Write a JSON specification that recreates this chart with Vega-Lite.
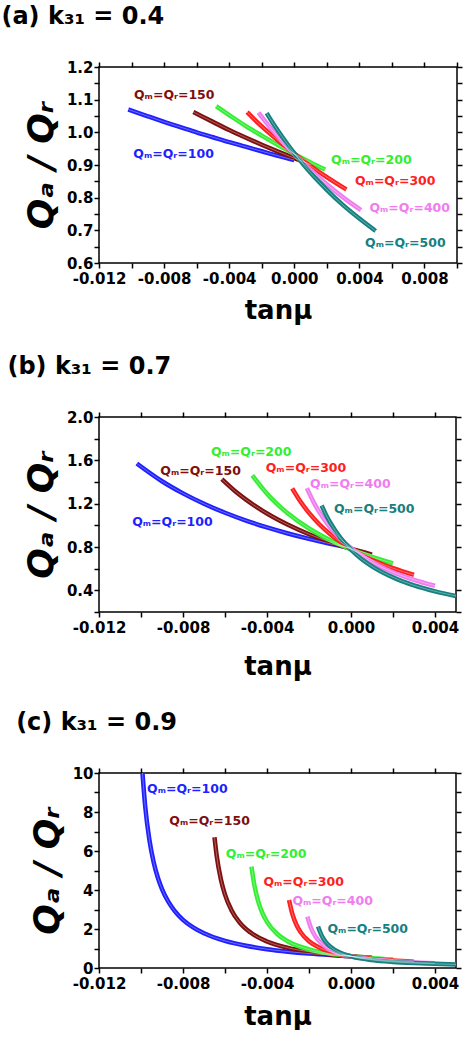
{
  "$schema": "https://vega.github.io/schema/vega-lite/v6.json",
  "background": "white",
  "padding": {"left": 0, "top": 4, "right": 0, "bottom": 0},
  "spacing": 30,
  "config": {
    "view": {"stroke": "black", "strokeWidth": 1.5, "fill": "transparent"},
    "axis": {
      "labelFont": "DejaVu Sans", "labelFontWeight": "bold", "labelFontSize": 15, "labelColor": "black",
      "labelOverlap": false, "labelFlush": false, "labelBound": false,
      "domain": false, "grid": false,
      "titleFont": "DejaVu Sans", "titleFontWeight": "bold", "titleColor": "black", "zindex": 2
    },
    "title": {"font": "DejaVu Sans", "fontSize": 24, "fontWeight": "bold", "anchor": "start", "color": "black", "frame": "bounds"},
    "text": {"font": "DejaVu Sans", "fontWeight": "bold", "fontSize": 12.5}
  },
  "datasets": {
    "a": [
      {"s":"100","x":-0.0102,"y":1.070},{"s":"100","x":-0.009,"y":1.049},{"s":"100","x":-0.008,"y":1.032},{"s":"100","x":-0.007,"y":1.016},{"s":"100","x":-0.006,"y":1.000},{"s":"100","x":-0.005,"y":0.985},{"s":"100","x":-0.004,"y":0.970},{"s":"100","x":-0.003,"y":0.956},{"s":"100","x":-0.002,"y":0.942},{"s":"100","x":-0.001,"y":0.928},{"s":"100","x":0,"y":0.915},
      {"s":"150","x":-0.0062,"y":1.062},{"s":"150","x":-0.005,"y":1.032},{"s":"150","x":-0.004,"y":1.007},{"s":"150","x":-0.003,"y":0.984},{"s":"150","x":-0.002,"y":0.962},{"s":"150","x":-0.001,"y":0.941},{"s":"150","x":0,"y":0.921},{"s":"150","x":0.00105,"y":0.901},
      {"s":"200","x":-0.0048,"y":1.080},{"s":"200","x":-0.004,"y":1.053},{"s":"200","x":-0.003,"y":1.020},{"s":"200","x":-0.002,"y":0.990},{"s":"200","x":-0.001,"y":0.961},{"s":"200","x":0,"y":0.934},{"s":"200","x":0.001,"y":0.908},{"s":"200","x":0.0019,"y":0.886},
      {"s":"300","x":-0.0029,"y":1.062},{"s":"300","x":-0.0025,"y":1.042},{"s":"300","x":-0.002,"y":1.018},{"s":"300","x":-0.001,"y":0.975},{"s":"300","x":0,"y":0.934},{"s":"300","x":0.001,"y":0.897},{"s":"300","x":0.002,"y":0.863},{"s":"300","x":0.0032,"y":0.825},
      {"s":"400","x":-0.0022,"y":1.060},{"s":"400","x":-0.0016,"y":1.022},{"s":"400","x":-0.001,"y":0.987},{"s":"400","x":0,"y":0.933},{"s":"400","x":0.001,"y":0.885},{"s":"400","x":0.002,"y":0.841},{"s":"400","x":0.003,"y":0.801},{"s":"400","x":0.0041,"y":0.762},
      {"s":"500","x":-0.0017,"y":1.059},{"s":"500","x":-0.0013,"y":1.027},{"s":"500","x":-0.001,"y":1.005},{"s":"500","x":0,"y":0.936},{"s":"500","x":0.0005,"y":0.905},{"s":"500","x":0.001,"y":0.876},{"s":"500","x":0.002,"y":0.824},{"s":"500","x":0.003,"y":0.777},{"s":"500","x":0.004,"y":0.736},{"s":"500","x":0.005,"y":0.698}
    ],
    "la": [
      {"s":"150","x":-0.00985,"y":1.115,"t":"Qₘ=Qᵣ=150"},
      {"s":"100","x":-0.00989,"y":0.934,"t":"Qₘ=Qᵣ=100"},
      {"s":"200","x":0.00226,"y":0.916,"t":"Qₘ=Qᵣ=200"},
      {"s":"300","x":0.00373,"y":0.850,"t":"Qₘ=Qᵣ=300"},
      {"s":"400","x":0.00462,"y":0.7685,"t":"Qₘ=Qᵣ=400"},
      {"s":"500","x":0.00435,"y":0.661,"t":"Qₘ=Qᵣ=500"}
    ],
    "b": [
      {"s":"100","x":-0.0102,"y":1.571},{"s":"100","x":-0.009,"y":1.407},{"s":"100","x":-0.008,"y":1.295},{"s":"100","x":-0.007,"y":1.199},{"s":"100","x":-0.006,"y":1.116},{"s":"100","x":-0.005,"y":1.044},{"s":"100","x":-0.004,"y":0.981},{"s":"100","x":-0.003,"y":0.925},{"s":"100","x":-0.002,"y":0.875},{"s":"100","x":-0.001,"y":0.830},{"s":"100","x":0,"y":0.790},
      {"s":"150","x":-0.00615,"y":1.426},{"s":"150","x":-0.0055,"y":1.312},{"s":"150","x":-0.005,"y":1.237},{"s":"150","x":-0.004,"y":1.109},{"s":"150","x":-0.003,"y":1.005},{"s":"150","x":-0.002,"y":0.918},{"s":"150","x":-0.001,"y":0.846},{"s":"150","x":0,"y":0.784},{"s":"150","x":0.001,"y":0.730},
      {"s":"200","x":-0.0047,"y":1.461},{"s":"200","x":-0.004,"y":1.292},{"s":"200","x":-0.0035,"y":1.194},{"s":"200","x":-0.003,"y":1.109},{"s":"200","x":-0.002,"y":0.971},{"s":"200","x":-0.001,"y":0.864},{"s":"200","x":0,"y":0.778},{"s":"200","x":0.001,"y":0.708},{"s":"200","x":0.002,"y":0.649},
      {"s":"300","x":-0.0028,"y":1.342},{"s":"300","x":-0.0024,"y":1.218},{"s":"300","x":-0.002,"y":1.115},{"s":"300","x":-0.0015,"y":1.008},{"s":"300","x":-0.001,"y":0.920},{"s":"300","x":-0.0005,"y":0.846},{"s":"300","x":0,"y":0.783},{"s":"300","x":0.001,"y":0.682},{"s":"300","x":0.002,"y":0.604},{"s":"300","x":0.003,"y":0.542},
      {"s":"400","x":-0.0021,"y":1.343},{"s":"400","x":-0.0018,"y":1.221},{"s":"400","x":-0.0015,"y":1.119},{"s":"400","x":-0.001,"y":0.982},{"s":"400","x":-0.0005,"y":0.876},{"s":"400","x":0,"y":0.790},{"s":"400","x":0.001,"y":0.660},{"s":"400","x":0.002,"y":0.567},{"s":"400","x":0.003,"y":0.497},{"s":"400","x":0.004,"y":0.442},
      {"s":"500","x":-0.0014,"y":1.183},{"s":"500","x":-0.0012,"y":1.101},{"s":"500","x":-0.001,"y":1.029},{"s":"500","x":-0.0005,"y":0.884},{"s":"500","x":0,"y":0.775},{"s":"500","x":0.0005,"y":0.690},{"s":"500","x":0.001,"y":0.622},{"s":"500","x":0.002,"y":0.520},{"s":"500","x":0.003,"y":0.446},{"s":"500","x":0.004,"y":0.391},{"s":"500","x":0.005,"y":0.348}
    ],
    "lb": [
      {"s":"200","x":-0.00667,"y":1.679,"t":"Qₘ=Qᵣ=200"},
      {"s":"150","x":-0.00908,"y":1.502,"t":"Qₘ=Qᵣ=150"},
      {"s":"300","x":-0.00406,"y":1.527,"t":"Qₘ=Qᵣ=300"},
      {"s":"400","x":-0.00195,"y":1.380,"t":"Qₘ=Qᵣ=400"},
      {"s":"500","x":-0.00081,"y":1.151,"t":"Qₘ=Qᵣ=500"},
      {"s":"100","x":-0.01042,"y":1.035,"t":"Qₘ=Qᵣ=100"}
    ],
    "c": [
      {"s":"100","x":-0.00993,"y":10.0},{"s":"100","x":-0.0098,"y":8.29},{"s":"100","x":-0.0096,"y":6.57},{"s":"100","x":-0.0094,"y":5.44},{"s":"100","x":-0.0092,"y":4.64},{"s":"100","x":-0.009,"y":4.05},{"s":"100","x":-0.0087,"y":3.40},{"s":"100","x":-0.0084,"y":2.93},{"s":"100","x":-0.008,"y":2.47},{"s":"100","x":-0.0075,"y":2.07},{"s":"100","x":-0.007,"y":1.78},{"s":"100","x":-0.006,"y":1.39},{"s":"100","x":-0.005,"y":1.14},{"s":"100","x":-0.004,"y":0.965},{"s":"100","x":-0.003,"y":0.838},{"s":"100","x":-0.002,"y":0.740},{"s":"100","x":-0.001,"y":0.663},{"s":"100","x":0,"y":0.600},
      {"s":"150","x":-0.0065,"y":6.70},{"s":"150","x":-0.0064,"y":5.79},{"s":"150","x":-0.0062,"y":4.56},{"s":"150","x":-0.006,"y":3.76},{"s":"150","x":-0.0057,"y":2.98},{"s":"150","x":-0.0053,"y":2.33},{"s":"150","x":-0.0048,"y":1.83},{"s":"150","x":-0.004,"y":1.36},{"s":"150","x":-0.003,"y":1.035},{"s":"150","x":-0.002,"y":0.833},{"s":"150","x":-0.001,"y":0.698},{"s":"150","x":0,"y":0.600},{"s":"150","x":0.001,"y":0.526},
      {"s":"200","x":-0.00474,"y":5.20},{"s":"200","x":-0.0046,"y":4.24},{"s":"200","x":-0.0044,"y":3.35},{"s":"200","x":-0.0042,"y":2.77},{"s":"200","x":-0.004,"y":2.37},{"s":"200","x":-0.0035,"y":1.73},{"s":"200","x":-0.003,"y":1.36},{"s":"200","x":-0.002,"y":0.957},{"s":"200","x":-0.001,"y":0.738},{"s":"200","x":0,"y":0.600},{"s":"200","x":0.001,"y":0.506},{"s":"200","x":0.002,"y":0.437},
      {"s":"300","x":-0.00295,"y":3.49},{"s":"300","x":-0.0028,"y":2.80},{"s":"300","x":-0.0026,"y":2.22},{"s":"300","x":-0.0024,"y":1.84},{"s":"300","x":-0.002,"y":1.37},{"s":"300","x":-0.0015,"y":1.04},{"s":"300","x":-0.001,"y":0.834},{"s":"300","x":0,"y":0.600},{"s":"300","x":0.001,"y":0.468},{"s":"300","x":0.002,"y":0.384},{"s":"300","x":0.003,"y":0.326},
      {"s":"400","x":-0.00208,"y":2.64},{"s":"400","x":-0.0019,"y":2.04},{"s":"400","x":-0.0017,"y":1.63},{"s":"400","x":-0.0014,"y":1.25},{"s":"400","x":-0.001,"y":0.954},{"s":"400","x":0,"y":0.600},{"s":"400","x":0.001,"y":0.437},{"s":"400","x":0.002,"y":0.344},{"s":"400","x":0.003,"y":0.284},{"s":"400","x":0.004,"y":0.241},
      {"s":"500","x":-0.00157,"y":2.13},{"s":"500","x":-0.0014,"y":1.67},{"s":"500","x":-0.0012,"y":1.33},{"s":"500","x":-0.001,"y":1.106},{"s":"500","x":-0.0005,"y":0.778},{"s":"500","x":0,"y":0.600},{"s":"500","x":0.001,"y":0.412},{"s":"500","x":0.002,"y":0.313},{"s":"500","x":0.003,"y":0.253},{"s":"500","x":0.004,"y":0.212},{"s":"500","x":0.005,"y":0.182}
    ],
    "lc": [
      {"s":"100","x":-0.00971,"y":9.20,"t":"Qₘ=Qᵣ=100"},
      {"s":"150","x":-0.00865,"y":7.55,"t":"Qₘ=Qᵣ=150"},
      {"s":"200","x":-0.00596,"y":5.84,"t":"Qₘ=Qᵣ=200"},
      {"s":"300","x":-0.00417,"y":4.43,"t":"Qₘ=Qᵣ=300"},
      {"s":"400","x":-0.00279,"y":3.44,"t":"Qₘ=Qᵣ=400"},
      {"s":"500","x":-0.00112,"y":2.01,"t":"Qₘ=Qᵣ=500"}
    ]
  },
  "vconcat": [
    {
      "title": {"text": "(a) k₃₁ = 0.4", "offset": 31, "dx": -22},
      "width": 358, "height": 196,
      "layer": [
        {
          "data": {"name": "a"},
          "mark": {"type": "line", "strokeWidth": 4.5, "interpolate": "monotone", "clip": true},
          "encoding": {
            "x": {"field": "x", "type": "quantitative", "scale": {"domain": [-0.012, 0.010], "nice": false, "zero": false},
                  "axis": {"title": "tanμ", "titleFontSize": 26, "titlePadding": 11, "labelPadding": 3, "ticks": true, "tickSize": 5, "tickColor": "black", "tickWidth": 1.5,
                           "values": [-0.012,-0.010,-0.008,-0.006,-0.004,-0.002,0,0.002,0.004,0.006,0.008,0.010],
                           "labelExpr": "abs(round(datum.value*1000)) % 4 == 0 && datum.value < 0.0095 ? replace(format(datum.value, '.3f'), '\u2212', '-') : ''"}},
            "y": {"field": "y", "type": "quantitative", "scale": {"domain": [0.6, 1.2], "nice": false, "zero": false},
                  "axis": {"title": "Qₐ / Qᵣ", "titleFontSize": 36, "titleFontStyle": "italic", "titlePadding": 6, "labelPadding": 1, "ticks": true, "tickSize": 5, "tickColor": "black", "tickWidth": 1.5,
                           "values": [0.6,0.65,0.7,0.75,0.8,0.85,0.9,0.95,1.0,1.05,1.1,1.15,1.2],
                           "labelExpr": "round(datum.value*100) % 10 == 0 ? format(datum.value, '.1f') : ''"}},
            "color": {"field": "s", "type": "nominal", "legend": null,
                      "scale": {"domain": ["100","150","200","300","400","500"], "range": ["#1f1fff","#7f0f0f","#33ee33","#ff1f1f","#f07cf0","#178080"]}}
          }
        },
        {
          "data": {"name": "a"},
          "mark": {"type": "line", "strokeWidth": 1, "color": "white", "opacity": 0.35, "interpolate": "monotone", "clip": true},
          "encoding": {
            "x": {"field": "x", "type": "quantitative", "axis": null},
            "y": {"field": "y", "type": "quantitative", "axis": null},
            "detail": {"field": "s"}
          }
        },
        {
          "data": {"name": "la"},
          "mark": {"type": "text", "align": "left", "baseline": "middle"},
          "encoding": {
            "x": {"field": "x", "type": "quantitative", "axis": {"orient": "top", "labels": false, "title": null, "ticks": true, "tickSize": 5, "tickColor": "black", "tickWidth": 1.5, "values": [-0.012,-0.010,-0.008,-0.006,-0.004,-0.002,0,0.002,0.004,0.006,0.008,0.010]}},
            "y": {"field": "y", "type": "quantitative", "axis": {"orient": "right", "labels": false, "title": null, "ticks": true, "tickSize": 5, "tickColor": "black", "tickWidth": 1.5, "values": [0.6,0.65,0.7,0.75,0.8,0.85,0.9,0.95,1.0,1.05,1.1,1.15,1.2]}},
            "text": {"field": "t"},
            "color": {"field": "s", "type": "nominal", "legend": null}
          }
        }
      ],
      "resolve": {"axis": {"x": "independent", "y": "independent"}}
    },
    {
      "title": {"text": "(b) k₃₁ = 0.7", "offset": 31, "dx": -16},
      "width": 357, "height": 195,
      "layer": [
        {
          "data": {"name": "b"},
          "mark": {"type": "line", "strokeWidth": 4.5, "interpolate": "monotone", "clip": true},
          "encoding": {
            "x": {"field": "x", "type": "quantitative", "scale": {"domain": [-0.012, 0.005], "nice": false, "zero": false},
                  "axis": {"title": "tanμ", "titleFontSize": 26, "titlePadding": 18, "labelPadding": 3, "ticks": true, "tickSize": 5, "tickColor": "black", "tickWidth": 1.5,
                           "values": [-0.012,-0.010,-0.008,-0.006,-0.004,-0.002,0,0.002,0.004],
                           "labelExpr": "abs(round(datum.value*1000)) % 4 == 0 ? replace(format(datum.value, '.3f'), '\u2212', '-') : ''"}},
            "y": {"field": "y", "type": "quantitative", "scale": {"domain": [0.2, 2.0], "nice": false, "zero": false},
                  "axis": {"title": "Qₐ / Qᵣ", "titleFontSize": 36, "titleFontStyle": "italic", "titlePadding": 6, "labelPadding": 1, "ticks": true, "tickSize": 5, "tickColor": "black", "tickWidth": 1.5,
                           "values": [0.2,0.4,0.6,0.8,1.0,1.2,1.4,1.6,1.8,2.0],
                           "labelExpr": "round(datum.value*10) % 4 == 0 ? format(datum.value, '.1f') : ''"}},
            "color": {"field": "s", "type": "nominal", "legend": null,
                      "scale": {"domain": ["100","150","200","300","400","500"], "range": ["#1f1fff","#7f0f0f","#33ee33","#ff1f1f","#f07cf0","#178080"]}}
          }
        },
        {
          "data": {"name": "b"},
          "mark": {"type": "line", "strokeWidth": 1, "color": "white", "opacity": 0.35, "interpolate": "monotone", "clip": true},
          "encoding": {
            "x": {"field": "x", "type": "quantitative", "axis": null},
            "y": {"field": "y", "type": "quantitative", "axis": null},
            "detail": {"field": "s"}
          }
        },
        {
          "data": {"name": "lb"},
          "mark": {"type": "text", "align": "left", "baseline": "middle"},
          "encoding": {
            "x": {"field": "x", "type": "quantitative", "axis": {"orient": "top", "labels": false, "title": null, "ticks": true, "tickSize": 5, "tickColor": "black", "tickWidth": 1.5, "values": [-0.012,-0.010,-0.008,-0.006,-0.004,-0.002,0,0.002,0.004]}},
            "y": {"field": "y", "type": "quantitative", "axis": {"orient": "right", "labels": false, "title": null, "ticks": true, "tickSize": 5, "tickColor": "black", "tickWidth": 1.5, "values": [0.2,0.4,0.6,0.8,1.0,1.2,1.4,1.6,1.8,2.0]}},
            "text": {"field": "t"},
            "color": {"field": "s", "type": "nominal", "legend": null}
          }
        }
      ],
      "resolve": {"axis": {"x": "independent", "y": "independent"}}
    },
    {
      "title": {"text": "(c) k₃₁ = 0.9", "offset": 31, "dx": -13},
      "width": 357, "height": 195,
      "layer": [
        {
          "data": {"name": "c"},
          "mark": {"type": "line", "strokeWidth": 4.5, "interpolate": "monotone", "clip": true},
          "encoding": {
            "x": {"field": "x", "type": "quantitative", "scale": {"domain": [-0.012, 0.005], "nice": false, "zero": false},
                  "axis": {"title": "tanμ", "titleFontSize": 26, "titlePadding": 12, "labelPadding": 3, "ticks": true, "tickSize": 5, "tickColor": "black", "tickWidth": 1.5,
                           "values": [-0.012,-0.010,-0.008,-0.006,-0.004,-0.002,0,0.002,0.004],
                           "labelExpr": "abs(round(datum.value*1000)) % 4 == 0 ? replace(format(datum.value, '.3f'), '\u2212', '-') : ''"}},
            "y": {"field": "y", "type": "quantitative", "scale": {"domain": [0, 10], "nice": false, "zero": false},
                  "axis": {"title": "Qₐ / Qᵣ", "titleFontSize": 36, "titleFontStyle": "italic", "titlePadding": 6, "labelPadding": 1, "ticks": true, "tickSize": 5, "tickColor": "black", "tickWidth": 1.5,
                           "values": [0,1,2,3,4,5,6,7,8,9,10],
                           "labelExpr": "round(datum.value) % 2 == 0 ? format(datum.value, 'd') : ''"}},
            "color": {"field": "s", "type": "nominal", "legend": null,
                      "scale": {"domain": ["100","150","200","300","400","500"], "range": ["#1f1fff","#7f0f0f","#33ee33","#ff1f1f","#f07cf0","#178080"]}}
          }
        },
        {
          "data": {"name": "c"},
          "mark": {"type": "line", "strokeWidth": 1, "color": "white", "opacity": 0.35, "interpolate": "monotone", "clip": true},
          "encoding": {
            "x": {"field": "x", "type": "quantitative", "axis": null},
            "y": {"field": "y", "type": "quantitative", "axis": null},
            "detail": {"field": "s"}
          }
        },
        {
          "data": {"name": "lc"},
          "mark": {"type": "text", "align": "left", "baseline": "middle"},
          "encoding": {
            "x": {"field": "x", "type": "quantitative", "axis": {"orient": "top", "labels": false, "title": null, "ticks": true, "tickSize": 5, "tickColor": "black", "tickWidth": 1.5, "values": [-0.012,-0.010,-0.008,-0.006,-0.004,-0.002,0,0.002,0.004]}},
            "y": {"field": "y", "type": "quantitative", "axis": {"orient": "right", "labels": false, "title": null, "ticks": true, "tickSize": 5, "tickColor": "black", "tickWidth": 1.5, "values": [0,1,2,3,4,5,6,7,8,9,10]}},
            "text": {"field": "t"},
            "color": {"field": "s", "type": "nominal", "legend": null}
          }
        }
      ],
      "resolve": {"axis": {"x": "independent", "y": "independent"}}
    }
  ]
}
